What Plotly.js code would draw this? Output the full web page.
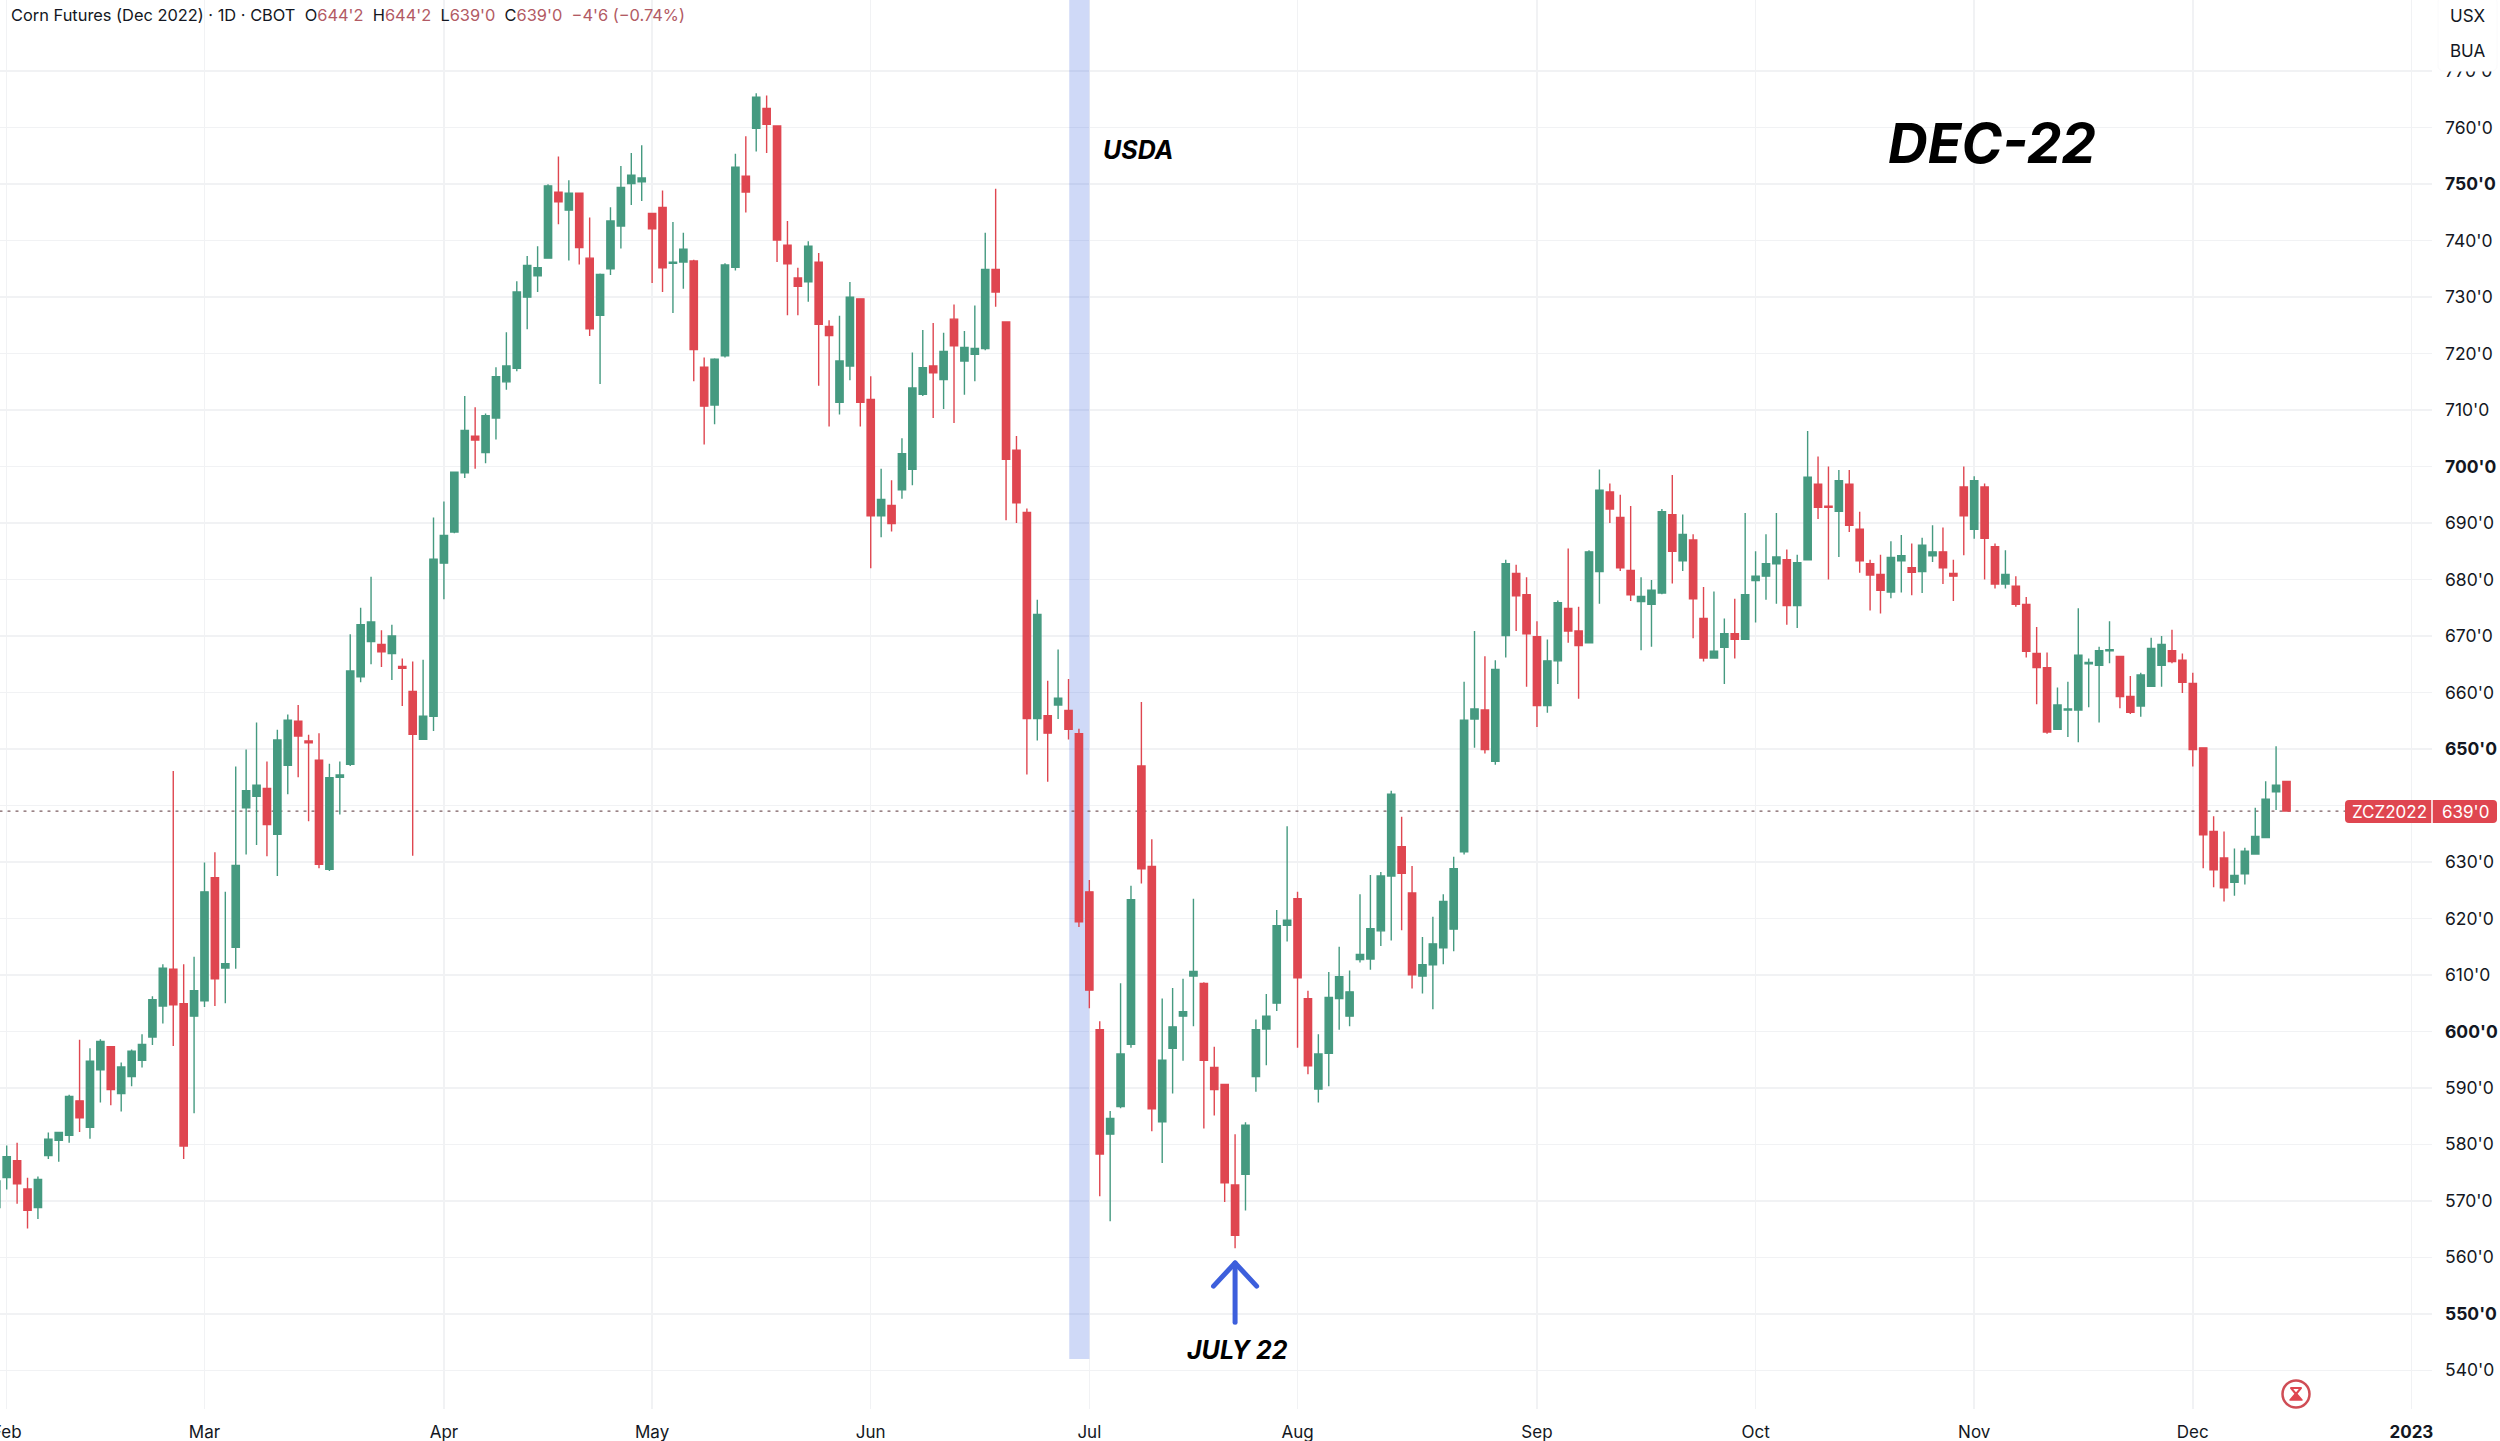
<!DOCTYPE html>
<html><head><meta charset="utf-8">
<script src="https://cdn.plot.ly/plotly-3.0.1.min.js"></script>
<style>html,body{margin:0;padding:0;background:#fff}#c{width:2500px;height:1441px}.shapelayer path{stroke-linecap:round;stroke-linejoin:round}</style>
</head><body><div id="c"></div>
<script>
const open=[568.8,574.1,577.1,572.1,568.8,578.0,580.7,581.6,587.7,583.0,
593.2,597.3,589.0,592.0,594.9,599.0,604.5,611.0,604.9,602.7,
605.4,627.2,611.2,614.9,639.6,641.6,643.0,634.9,647.1,654.9,
651.4,648.0,628.7,645.0,647.3,662.8,669,668.5,666.9,664.6,
660.2,651.7,655.8,682.9,688.4,698.9,705.4,702.5,708.6,715.0,
717.4,730.0,733.8,736.9,748.6,745.4,748.4,736.9,726.8,735.0,
742.6,750.1,750.4,744.8,745.9,736.0,736.2,736.4,717.6,710.9,
719.6,735.3,751.4,759.9,763.4,760.3,739.2,733.4,732.7,736.2,
724.8,711.4,717.8,729.7,711.9,691.3,693.1,695.9,699.5,712.8,
717.8,715.4,726.1,718.7,719.9,720.9,734.9,725.6,702.9,691.9,
655.4,655.9,657.8,656.8,652.7,624.7,600.3,581.8,586.7,597.7,
647.0,629.2,584.0,597.0,602.7,609.8,608.5,593.6,590.6,572.8,
574.7,592.0,600.4,605.0,618.8,623.5,605.8,589.8,596.1,605.8,
602.7,612.7,612.8,617.8,627.5,632.7,624.5,609.8,611.8,614.8,
618.1,631.8,655.3,656.9,647.8,670.1,681.1,677.3,669.9,657.7,
665.6,674.9,670.9,668.8,681.4,695.5,691,681.6,676.1,675.6,
677.6,691.5,683.3,687.0,673.1,666.1,668.0,670.4,669.4,679.8,
680.6,682.8,683.5,675.4,683.5,696.9,693.0,692.1,696.9,688.9,
682.8,680.9,677.8,683.3,682.1,681.4,684.2,684.9,681.1,696.4,
688.9,696.4,685.8,679.2,678.8,675.6,666.9,664.4,653.5,656.9,
656.9,665.1,664.8,667.4,666.4,659.3,657.6,661.1,664.8,667.4,
665.7,661.6,650.2,635.4,630.7,626.4,627.9,631.4,634.3,642.4,
644.25];
const high=[575,579.8,580.3,574.1,574.3,582.1,582.1,588.8,598.5,597.0,
598.6,597.4,594.5,596.8,599.5,606.2,611.9,646.1,611.9,613.2,
629.9,631.7,624.7,646.9,649.9,654.7,647.8,653.4,656.1,657.8,
652.5,652.8,647.4,647.8,670.3,675,680.5,671,672,666,
665.5,665.8,691.0,693.8,699.0,712.5,710.5,709.4,717.6,723.8,
732.8,737.3,739.0,750,754.9,750.7,748.4,744.1,734.2,745.9,
753.2,755.5,756.9,744.8,748.9,743.3,741.4,736.6,719.3,719.2,
736.0,755.4,758.5,766.1,765.7,760.4,743.5,735.2,739.9,737.8,
725.9,726.7,732.7,729.7,716.0,699.6,697.6,705,720.2,724.2,
725.4,723.7,728.7,724.0,728.5,741.4,749.2,725.6,705.4,692.6,
676.4,662.1,667.6,662.4,653.6,626.8,601.8,585.9,608.5,625.8,
658.3,634.0,605.8,607.7,609.3,623.5,608.7,597.3,590.7,581.8,
583.9,602.1,606.6,621.5,636.3,624.7,607.2,599.5,610.5,615.0,
610.8,624.3,627.7,628.2,642.6,638.0,629.3,616.7,620.3,624.3,
630.9,661.9,670.9,666.4,665.7,683.5,682.6,680.4,672.6,669.4,
676.3,685.5,675.2,685.2,699.5,697,695,693,680.4,679.9,
692.5,698.5,691.5,688,678.7,677.9,673.1,676.6,691.8,685,
688,691.8,685.3,684.4,706.3,701.8,700,699.4,699.4,692,
683.5,684.4,686.8,687.9,686.4,687.4,689.6,689.2,683.5,700,
698.3,697,686.4,685.2,680.6,676.9,671.6,667.1,660.9,661.9,
674.9,666,668.1,672.6,666.5,662.9,663.5,669.7,670,671.1,
666.9,663.5,650.2,638.1,635.4,632.4,632.5,639.6,644.3,650.5,
644.25];
const low=[567,572.0,569.5,565.1,566.8,577.4,576.9,580.3,582.2,581.0,
587.4,586.9,585.8,590.3,593.6,597.6,601.4,597.4,577.4,585.5,
604.3,604.5,605.0,611.1,631.3,633.0,631.0,627.5,642.0,645.0,
637.2,628.9,628.4,638.4,647.0,661.8,665,664.5,662.2,657.6,
631.1,651.6,653.2,676.5,688.2,698.0,699.6,700.6,704.8,713.6,
716.9,724.3,730.9,736.9,742.9,736.5,735.8,723.1,714.6,733.9,
738.6,746.3,747.0,732.5,730.9,727.2,731.5,715.1,703.9,707.5,
719.3,734.7,745.0,755.8,755.5,736.2,726.8,726.8,729.2,714.3,
707.1,709.2,715.3,707.1,682.0,687.5,688.5,694.3,696.7,712.5,
708.6,710.2,707.7,712.7,715.1,720.6,728.3,690.5,690.0,645.5,
651.5,644.2,655.3,651.7,618.5,604.1,570.8,566.4,586.4,597.1,
626.2,582.3,576.7,589.0,594.8,600.9,582.8,585.1,569.8,561.6,
568.3,589.3,594.0,603.6,615.9,597.1,592.4,587.4,590.3,600.3,
600.9,612.2,610.9,615.1,616.1,617.9,607.6,606.7,603.9,611.9,
614.2,631.3,650.2,649.2,647.2,666.2,670.9,661.0,653.9,656.4,
661.5,668.8,658.9,668.8,675.7,690,681.5,676.2,667.5,668.1,
677.4,679.3,681.5,669.6,665.5,666.0,661.5,666,669.3,672.4,
676.4,675.7,672,671.4,683.4,690.7,680,684,688.4,681.2,
674.5,674,676.7,677.7,677.2,677.6,683.1,679.2,676.2,684.3,
687.2,680,678.4,678.4,675.2,666.2,657.9,652.7,653.4,652.1,
651.2,657.4,654.7,665.2,657.2,656.2,655.7,661,661,665.2,
659.9,646.9,628.9,625.5,623,624,626,631.4,634.3,639.2,
639];
const close=[573.5,577.8,573.0,568.3,573.8,580.9,582.1,588.5,584.7,594.7,
598.2,589.7,593.7,596.5,597.7,605.6,611.2,604.7,579.7,607.2,
624.7,609.3,612.0,629.4,642.6,643.6,636.6,651.6,655.1,652.3,
651.1,629.6,644.9,645.4,663.8,672,672.5,667.2,670,664.3,
652.6,655.8,683.6,687.8,699.0,706.4,704.7,709.0,715.9,717.8,
730.9,735.6,735.2,749.7,746.9,748.4,738.8,724.4,734.0,743.5,
749.4,751.6,751.1,742.1,735.2,736.2,738.5,720.7,710.7,719.0,
735.7,753.0,748.6,765.4,760.6,740.1,735.9,731.9,739.0,725.2,
723.2,718.7,730.0,711.4,691.3,694.2,689.9,702.3,713.9,717.5,
716.6,720.4,721.4,721.1,720.9,734.9,730.9,701.3,693.6,655.4,
673.8,652.8,659.0,653.5,619.4,607.3,578.3,584.6,596.0,623.3,
628.8,586.3,594.9,600.8,603.5,610.6,594.9,589.7,573.2,563.9,
583.4,600.3,602.7,618.7,619.7,609.5,593.9,596.0,606.0,609.7,
607.0,613.6,618.2,627.5,642.0,628.0,610.0,611.8,615.5,623.0,
628.8,655.1,657.1,649.9,664.1,682.8,677.1,670.4,657.7,665.6,
675.9,670.9,668.3,684.9,695.8,692.5,682.1,677.3,677.0,678.1,
692.0,685.0,688.0,676.6,666.1,667.3,670.4,669.4,677.3,680.6,
682.8,684.0,675.4,683,698.1,692.8,692.8,697.5,689.6,683.3,
680.8,678.1,683.9,684.2,681.3,686.1,684.9,682.1,680.6,691.3,
697.5,687.3,679.2,680.9,675.6,667.3,664.4,653,657.8,657.1,
666.6,665.3,667.4,667.6,659.3,656.5,663.1,667.8,668.5,665.5,
661.8,649.9,634.8,628.6,625.4,627.6,631.9,634.5,641.1,643.6,
639];
const monthTickIndex=[1,20,43,63,84,105,125,148,169,190,211,232];
const monthTickText=["Feb","Mar","Apr","May","Jun","Jul","Aug","Sep","Oct","Nov","Dec","<b>2023</b>"];
const priceTicks=[540,550,560,570,580,590,600,610,620,630,640,650,660,670,680,690,700,710,720,730,740,750,760,770];
const priceText=["540'0","<b>550'0</b>","560'0","570'0","580'0","590'0","<b>600'0</b>","610'0","620'0","630'0","","<b>650'0</b>","660'0","670'0","680'0","690'0","<b>700'0</b>","710'0","720'0","730'0","740'0","<b>750'0</b>","760'0","770'0"];
const lastPrice=639;
const usdaBar=104, lowBar=119;

const W=2500,H=1441,PW=2432,PH=1409;
const X=p=>p/PW, Y=p=>1-p/PH;
const xRange=[1-6.7/10.41,1+(PW-6.7)/10.41], yRange=[760-(PH-127.7)/5.648,760+127.7/5.648];
const FONT='Inter, "Liberation Sans", sans-serif';
const INK='#131722', RED='#df4650', GREEN='#459a80', BLUE='#3d5fdc', GRID='#f1f2f4';
const xs=open.map((_,i)=>i);
const pathP=(...pts)=>pts.map((q,i)=>(i?'L':'M')+X(q[0])+','+Y(q[1])).join(' ');
function round(x0,y0,x1,y1,r){
  const a=(x,y)=>X(x)+','+Y(y);
  return 'M'+a(x0+r,y0)+' L'+a(x1-r,y0)+' Q'+a(x1,y0)+' '+a(x1,y0+r)+' L'+a(x1,y1-r)+' Q'+a(x1,y1)+' '+a(x1-r,y1)+' L'+a(x0+r,y1)+' Q'+a(x0,y1)+' '+a(x0,y1-r)+' L'+a(x0,y0+r)+' Q'+a(x0,y0)+' '+a(x0+r,y0)+' Z';
}
const pap={xref:'paper',yref:'paper'};
const shapes=[
  {type:'rect',xref:'x',yref:'y',x0:usdaBar-0.93,x1:usdaBar+1,y0:542,y1:yRange[1],fillcolor:'rgba(65,105,225,0.25)',line:{width:0},layer:'between'},
  {type:'line',xref:'x',yref:'y',x0:xRange[0],x1:225.6,y0:lastPrice,y1:lastPrice,line:{color:'#7a5c60',width:1.4,dash:'2px,6px'},layer:'between'},
  {type:'path',xref:'x',yref:'y',path:'M'+lowBar+',548.5 L'+lowBar+',559',line:{color:BLUE,width:5}},
  {type:'path',xref:'x',yref:'y',path:'M'+(lowBar-2.07)+',554.9 L'+lowBar+',559 L'+(lowBar+2.07)+',554.9',line:{color:BLUE,width:5}},
  {...pap,type:'path',path:round(2345,800,2497,823,4),fillcolor:RED,line:{width:0}},
  {...pap,type:'path',path:pathP([2432,800],[2432,823]),line:{color:'#fff',width:1.5}},
  {...pap,type:'path',path:round(2438,-4,2497,71,6),fillcolor:'#fff',line:{color:'#fafafb',width:1}},
  {...pap,type:'circle',x0:X(2282.5),x1:X(2309.5),y0:Y(1407.5),y1:Y(1380.5),line:{color:'#cf4d55',width:2.5},fillcolor:'#fff'},
  {...pap,type:'path',path:pathP([2291,1388],[2301,1388],[2296,1394])+' Z',fillcolor:'#fff',line:{color:'#df4650',width:2}},
  {...pap,type:'path',path:pathP([2296,1393],[2302,1400],[2290,1400])+' Z',fillcolor:'#df4650',line:{color:'#df4650',width:1.5}}
];
const ann=(t,x,y,size,extra)=>Object.assign({text:t,xref:'paper',yref:'paper',x:X(x),y:Y(y),showarrow:false,xanchor:'center',yanchor:'middle',font:{family:FONT,size:size,color:INK}},extra||{});
const rd=s=>'<span style="color:#b25a64">'+s+'</span>';
const annotations=[
  ann('Corn Futures (Dec 2022) · 1D · CBOT  O'+rd("644'2")+'  H'+rd("644'2")+'  L'+rd("639'0")+'  C'+rd("639'0")+'  '+rd("−4'6 (−0.74%)"),9,15,16.4,{xanchor:'left'}),
  ann('<b><i>USDA</i></b>',1138,150,25,{font:{family:FONT,size:25,color:'#000'}}),
  ann('<b><i>DEC-22</i></b>',1992,143,55,{font:{family:FONT,size:55,color:'#000'}}),
  ann('<b><i>JULY 22</i></b>',1237,1350,25,{font:{family:FONT,size:25,color:'#000'}}),
  ann('USX',2467,16,17),
  ann('BUA',2467,51,17),
  ann('ZCZ2022',2389,811.5,17,{font:{family:FONT,size:17,color:'#fff'}}),
  ann("639'0",2465,811.5,17,{font:{family:FONT,size:17,color:'#fff'}})
];
Plotly.newPlot('c',[{
  type:'candlestick',x:xs,open:open,high:high,low:low,close:close,whiskerwidth:0,
  increasing:{line:{color:GREEN,width:1.4},fillcolor:GREEN},
  decreasing:{line:{color:RED,width:1.4},fillcolor:RED},
  hoverinfo:'skip',showlegend:false
}],{
  width:W,height:H,margin:{l:0,r:W-PW,t:0,b:H-PH,pad:0},
  paper_bgcolor:'#fff',plot_bgcolor:'#fff',showlegend:false,hovermode:false,
  boxgap:0.3,boxgroupgap:0,
  xaxis:{type:'linear',range:xRange,rangeslider:{visible:false},tickmode:'array',tickvals:monthTickIndex,ticktext:monthTickText,tickangle:0,ticklabeloverflow:'allow',
    showgrid:true,gridcolor:GRID,gridwidth:1.5,zeroline:false,showline:false,ticks:'',ticklabelstandoff:11,tickfont:{family:FONT,size:17,color:INK}},
  yaxis:{type:'linear',side:'right',range:yRange,tickmode:'array',tickvals:priceTicks,ticktext:priceText,
    showgrid:true,gridcolor:GRID,gridwidth:1.5,zeroline:false,showline:false,ticks:'',ticklabelstandoff:12,tickfont:{family:FONT,size:17.5,color:INK}},
  shapes:shapes,annotations:annotations
},{displayModeBar:false,responsive:false,staticPlot:true});
</script></body></html>
